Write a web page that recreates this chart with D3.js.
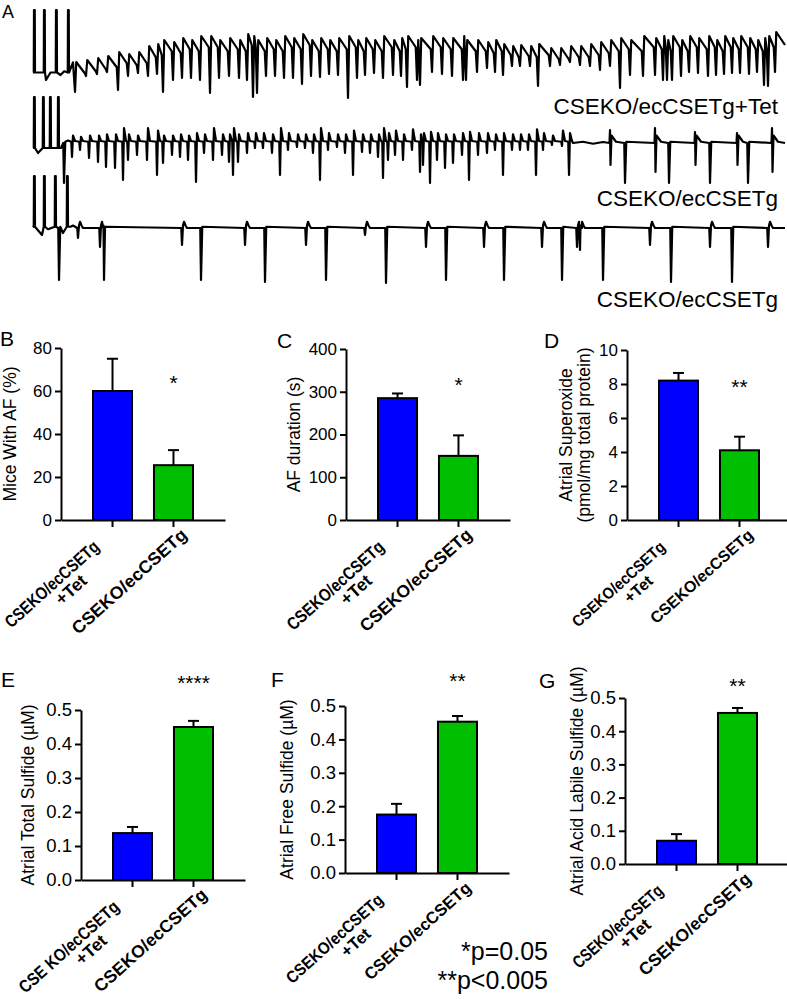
<!DOCTYPE html>
<html><head><meta charset="utf-8">
<script src="https://cdn.jsdelivr.net/npm/d3@7"></script>
<style>
body{margin:0;background:#fff}
svg{display:block}
text{font-family:"Liberation Sans",Arial,Helvetica,sans-serif;fill:#000}
</style>
</head><body>
<svg id="fig" width="787" height="999"></svg>
<script>
// ================= DATA =================
const categories = ["CSEKO/ecCSETg+Tet", "CSEKO/ecCSETg"];
const labelLines = [["CSEKO/ecCSETg", "+Tet"], ["CSEKO/ecCSETg"]];
const labelLinesE = [["CSE KO/ecCSETg", "+Tet"], ["CSEKO/ecCSETg"]];
const barColors = ["#0000ff", "#00bf00"];

const afIncidence = [60, 25.5],        afIncidenceErr = [15, 7];
const afDuration = [285, 150],         afDurationErr = [11, 48];
const superoxide = [8.2, 4.1],         superoxideErr = [0.45, 0.8];
const totalSulfide = [0.138, 0.45],    totalSulfideErr = [0.018, 0.018];
const freeSulfide = [0.175, 0.453],    freeSulfideErr = [0.032, 0.017];
const acidSulfide = [0.07, 0.455],     acidSulfideErr = [0.02, 0.015];

const ticksB = [0, 20, 40, 60, 80];
const ticksC = [0, 100, 200, 300, 400];
const ticksD = [0, 2, 4, 6, 8, 10];
const ticksSulfide = [0, 0.1, 0.2, 0.3, 0.4, 0.5];

const sigMarks = ["*", "*", "**", "****", "**", "**"];
const sigLevels = [66, 327, 8.1, 0.594, 0.59, 0.55];
const pNotes = ["*p=0.05", "**p<0.005"];

// ECG traces (time in ms, voltage in mV relative to each trace baseline)
const traceLabels = ["CSEKO/ecCSETg+Tet", "CSEKO/ecCSETg", "CSEKO/ecCSETg"];
const t1Stim = [4, 44, 92, 140];
const t1StimAmp = 2.2;
const t1Extra = [[0,-0.3],[52,-0.6],[70,-0.3],[110,-0.4],[125,-0.25],[150,-0.15],[160,0.1],[3008,0.8]];
const t1Times = [168,212,256,296,340,380,420,460,496,520,560,596,632,668,708,744,784,824,856,880,896,932,968,1004,1040,1076,1112,1148,1184,1220,1260,1296,1328,1364,1400,1440,1472,1496,1536,1548,1596,1636,1676,1720,1732,1776,1816,1848,1880,1916,1948,1988,2020,2068,2108,2148,2188,2228,2268,2308,2348,2388,2440,2488,2520,2536,2556,2592,2624,2660,2700,2732,2764,2796,2828,2864,2896,2924,2940,2968];
const t1Troughs = [-1.08,-0.44,-0.36,-0.28,-1.00,-0.44,-0.32,-0.44,-0.36,-1.08,-0.60,-0.52,-0.52,-0.60,-1.12,-0.52,-0.44,-0.52,-0.60,-1.28,-1.12,-0.44,-0.44,-0.52,-0.52,-0.76,-0.44,-0.48,-0.36,-0.40,-1.32,-0.52,-0.40,-0.32,-0.52,-0.40,-0.44,-0.88,-0.60,-0.80,-0.28,-0.36,-0.44,-0.60,-0.60,-0.28,-0.12,-0.28,-0.40,-0.04,-0.04,-0.04,-0.84,-0.04,0.00,0.12,0.00,-0.04,-0.20,-0.04,-0.92,-0.40,-0.44,-0.40,-0.60,-0.60,-0.60,-0.44,-0.28,-0.32,-0.44,-0.40,-0.36,-0.32,-0.32,-0.36,-0.28,-0.80,-0.84,-0.28];
const t1Peaks = [0.12,0.20,0.28,0.36,0.52,0.44,0.52,0.76,0.84,1.00,0.92,1.08,1.00,1.16,1.16,1.00,1.08,1.00,1.24,1.16,1.00,1.08,1.00,1.16,1.08,1.24,1.00,1.08,1.00,1.08,1.16,1.00,1.08,1.00,1.16,1.00,1.08,1.16,1.00,1.08,1.16,1.08,1.08,1.16,1.00,1.00,0.92,1.00,0.84,0.76,0.80,0.76,0.84,0.68,0.68,0.76,0.76,0.84,0.92,1.00,1.08,1.00,1.16,1.08,1.16,1.00,1.16,1.00,1.16,1.08,1.16,1.00,1.16,1.08,1.16,1.08,1.00,1.08,1.16,1.32];
const t2Stim = [4, 40, 68, 100];
const t2StimAmp = 1.84;
const t2Extra = [[0,-0.2],[20,-0.4],[112,-0.2],[140,0.1],[2160,0.0],[2200,0.05],[2240,-0.03],[2280,0.04],[3008,0.0]];
const t2Times = [156,188,224,260,292,328,360,380,416,456,496,520,556,588,620,652,684,720,756,784,800,820,856,888,920,956,988,1020,1056,1088,1120,1148,1180,1216,1248,1280,1316,1348,1380,1400,1420,1448,1480,1516,1548,1560,1588,1616,1648,1680,1716,1744,1780,1816,1848,1880,1916,1948,1980,2012,2040,2076,2116,2144];
const t2Depths = [-0.56,-0.28,-0.60,-0.76,-0.96,-1.00,-1.48,-0.68,-0.48,-0.68,-1.28,-0.80,-0.48,-0.56,-0.68,-1.56,-0.40,-0.68,-0.48,-0.76,-1.28,-0.76,-0.40,-0.20,-0.20,-0.40,-1.28,-0.28,-0.16,-0.20,-0.40,-1.48,-0.28,-0.16,-0.40,-1.28,-0.36,-0.40,-0.56,-1.40,-0.68,-0.48,-0.68,-0.28,-1.16,-0.88,-1.60,-0.68,-1.00,-0.80,-0.48,-1.48,-0.48,-0.40,-0.28,-1.28,-0.28,-0.28,-0.28,-1.28,-0.28,-0.08,-0.12,-1.28];
const t2Ups = [0.3,0.25,0.3,0.3,0.35,0.35,0.6,0.35,0.3,0.6,0.5,0.3,0.3,0.35,0.3,0.4,0.35,0.6,0.35,0.35,0.6,0.35,0.4,0.4,0.4,0.35,0.6,0.4,0.35,0.35,0.35,0.6,0.4,0.35,0.35,0.5,0.35,0.35,0.35,0.6,0.4,0.5,0.35,0.55,0.35,0.4,0.45,0.4,0.35,0.35,0.4,0.45,0.4,0.4,0.35,0.4,0.35,0.35,0.35,0.55,0.4,0.3,0.5,0.4];
const t2LateTimes = [2308, 2488, 2648, 2816, 2956];
const t2LateUp = [0.52, 0.6, 0.44, 0.4, 0.6];
const t2LateDown = [-0.88, -1.16, -0.88, -0.88, -1.16];
const t2DeepTimes = [124, 2368, 2544, 2708, 2860];
const t2DeepDepths = [-1.6, -1.6, -1.6, -1.6, -1.6];
const t3Stim = [4, 44, 88, 136];
const t3StimAmp = 2.08;
const t3Extra = [[0,0.1],[36,-0.28],[60,-0.05],[120,-0.2],[150,0.05],[160,0.1],[3008,0.0]];
const t3DeepTimes = [104, 284, 672, 928, 1172, 1412, 1652, 1884, 2116, 2280, 2552, 2796];
const t3DeepDepths = [-2.08,-2.08,-2.08,-2.16,-2.08,-2.2,-2.08,-2.08,-2.08,-2.08,-2.16,-2.16];
const t3SmallTimes = [180, 268, 596, 848, 1092, 1328, 1572, 1804, 2036, 2176, 2188, 2468, 2708, 2940];
const t3SmallDepths = [-0.4,-0.76,-0.68,-0.68,-0.68,-0.28,-0.76,-0.76,-0.76,-0.76,-0.88,-0.68,-0.76,-0.76];

// ================= DRAW =================
const svg = d3.select("#fig");

// ---- Panel A: traces ----
const tx = d3.scaleLinear().domain([0, 3008]).range([33, 785]);
const traceBases = [65, 143, 228];
const ys = traceBases.map(b => d3.scaleLinear().domain([-2, 2]).range([b + 50, b - 50]));

function stimPts(times, amp, base) {
  const p = [];
  times.forEach(s => p.push([s - 1, base], [s, amp], [s + 3, amp], [s + 4, base]));
  return p;
}
let p1 = [...t1Extra, ...stimPts(t1Stim, t1StimAmp, -0.3)];
t1Times.forEach((t, i) => {
  const prev = i > 0 ? t1Peaks[i - 1] : 0.1;
  p1.push([t - 5, prev - 0.45], [t, t1Troughs[i]], [t + 5, t1Peaks[i]]);
});
let p2 = [...t2Extra, ...stimPts(t2Stim, t2StimAmp, -0.2)];
t2Times.forEach((t, i) => p2.push([t - 3, 0.05], [t, t2Depths[i]], [t + 4, t2Ups[i]], [t + 12, 0.08]));
t2LateTimes.forEach((t, i) => p2.push([t - 2, 0], [t, t2LateUp[i]], [t + 2, t2LateDown[i]], [t + 6, 0.3], [t + 24, 0.05]));
t2DeepTimes.forEach((t, i) => p2.push([t - 3, 0], [t, t2DeepDepths[i]], [t + 5, 0.05]));
let p3 = [...t3Extra, ...stimPts(t3Stim, t3StimAmp, 0.05)];
t3DeepTimes.forEach((t, i) => p3.push([t - 3, 0], [t, t3DeepDepths[i]], [t + 5, 0.05]));
t3SmallTimes.forEach((t, i) => p3.push([t - 3, 0], [t, t3SmallDepths[i]], [t + 4, 0.1], [t + 8, 0.25], [t + 14, 0.1], [t + 20, 0]));

[p1, p2, p3].forEach((pts, k) => {
  pts.sort((a, b) => a[0] - b[0]);
  svg.append("path").datum(pts)
    .attr("d", d3.line().x(d => tx(d[0])).y(d => ys[k](d[1])))
    .attr("fill", "none").attr("stroke", "#000").attr("stroke-width", 2.2)
    .attr("stroke-linejoin", "round");
});
const traceLabelY = [114, 206, 307];
traceLabels.forEach((t, k) => {
  svg.append("text").attr("x", 778).attr("y", traceLabelY[k]).attr("text-anchor", "end")
    .attr("font-size", 22.5).text(t);
});
svg.append("text").attr("x", 2).attr("y", 18).attr("font-size", 18).text("A");

// ---- Bar panels ----
const panels = [
  {letter:"B", lx:0, ly:346, values:afIncidence, errs:afIncidenceErr, domain:[0,80], ticks:ticksB, fmt:d3.format("d"),
   axisX:61, top:348, bottom:520, yLabel:["Mice With AF (%)"], yLabelX:[16], tickFs:17, labFs:17.5, L1:120, L2:148, lines:labelLines},
  {letter:"C", lx:277, ly:348, values:afDuration, errs:afDurationErr, domain:[0,400], ticks:ticksC, fmt:d3.format("d"),
   axisX:346, top:349, bottom:520, yLabel:["AF duration (s)"], yLabelX:[300], tickFs:17, labFs:17.5, L1:124, L2:144, lines:labelLines},
  {letter:"D", lx:544, ly:348, values:superoxide, errs:superoxideErr, domain:[0,10], ticks:ticksD, fmt:d3.format("d"),
   axisX:627, top:350, bottom:520, yLabel:["Atrial Superoxide","(pmol/mg total protein)"], yLabelX:[572,590], tickFs:17, labFs:16, L1:119, L2:132, lines:labelLines},
  {letter:"E", lx:1, ly:687, values:totalSulfide, errs:totalSulfideErr, domain:[0,0.5], ticks:ticksSulfide, fmt:d3.format(".1f"),
   axisX:81, top:710, bottom:880, yLabel:["Atrial Total Sulfide (\u00b5M)"], yLabelX:[34], tickFs:18.5, labFs:17.5, L1:128, L2:145, lines:labelLinesE},
  {letter:"F", lx:271, ly:687, values:freeSulfide, errs:freeSulfideErr, domain:[0,0.5], ticks:ticksSulfide, fmt:d3.format(".1f"),
   axisX:345, top:706, bottom:873, yLabel:["Atrial Free Sulfide (\u00b5M)"], yLabelX:[293], tickFs:18.5, labFs:16.7, L1:124, L2:137, lines:labelLines},
  {letter:"G", lx:539, ly:688, values:acidSulfide, errs:acidSulfideErr, domain:[0,0.5], ticks:ticksSulfide, fmt:d3.format(".1f"),
   axisX:625, top:698, bottom:864, yLabel:["Atrial Acid Labile Sulfide (\u00b5M)"], yLabelX:[583], tickFs:18.5, labFs:17.5, L1:115, L2:144, lines:labelLines}
];

function fitText(parent, str, fs, x, y, L) {
  const t = parent.append("text").attr("text-anchor", "end").attr("font-size", fs)
    .attr("font-weight", "bold").text(str);
  const w = t.node().getComputedTextLength();
  const k = L ? L / w : 1;
  t.attr("transform", `translate(${x},${y}) scale(${k},1)`);
  return t;
}
const labelAngle = -42;

panels.forEach((cfg, pi) => {
  const g = svg.append("g");
  const y = d3.scaleLinear().domain(cfg.domain).range([cfg.bottom, cfg.top]);
  const x = d3.scaleBand().domain(categories).range([cfg.axisX, cfg.axisX + 164])
    .paddingInner(0.36).paddingOuter(0.525);
  const bw = x.bandwidth();

  g.selectAll("rect.bar").data(cfg.values).join("rect").attr("class", "bar")
    .attr("x", (d, i) => x(categories[i])).attr("y", d => y(d))
    .attr("width", bw).attr("height", d => y(0) - y(d))
    .attr("fill", (d, i) => barColors[i]).attr("stroke", "#000").attr("stroke-width", 2);
  cfg.values.forEach((v, i) => {
    const cx = x(categories[i]) + bw / 2;
    g.append("line").attr("x1", cx).attr("x2", cx).attr("y1", y(v)).attr("y2", y(v + cfg.errs[i]))
      .attr("stroke", "#000").attr("stroke-width", 2);
    g.append("line").attr("x1", cx - 5.5).attr("x2", cx + 5.5).attr("y1", y(v + cfg.errs[i])).attr("y2", y(v + cfg.errs[i]))
      .attr("stroke", "#000").attr("stroke-width", 2);
  });

  const ya = g.append("g").attr("transform", `translate(${cfg.axisX},0)`)
    .call(d3.axisLeft(y).tickValues(cfg.ticks).tickFormat(cfg.fmt).tickSize(6).tickSizeOuter(0));
  ya.attr("font-family", null).attr("font-size", null);
  ya.selectAll("path,line").attr("stroke", "#000").attr("stroke-width", 2);
  ya.selectAll("text").attr("font-size", cfg.tickFs).attr("fill", "#000");

  const xa = g.append("g").attr("transform", `translate(0,${cfg.bottom})`)
    .call(d3.axisBottom(x).tickSize(7).tickSizeOuter(0).tickFormat(""));
  xa.selectAll("path,line").attr("stroke", "#000").attr("stroke-width", 2);

  categories.forEach((c, i) => {
    const cx = x(c) + bw / 2;
    const lg = g.append("g").attr("transform", `translate(${cx},${cfg.bottom}) rotate(${labelAngle})`);
    const lines = cfg.lines[i];
    if (lines.length === 2) {
      fitText(lg, lines[0], cfg.labFs, -28, 13, cfg.L1);
      fitText(lg, lines[1], cfg.labFs, -60, 30, null);
    } else {
      fitText(lg, lines[0], cfg.labFs, 0, 22, cfg.L2);
    }
  });

  const cy = (cfg.top + cfg.bottom) / 2;
  cfg.yLabel.forEach((t, k) => {
    svg.append("text").attr("transform", `translate(${cfg.yLabelX[k]},${cy}) rotate(-90)`)
      .attr("text-anchor", "middle").attr("font-size", 17.5).text(t);
  });

  svg.append("text").attr("x", cfg.lx).attr("y", cfg.ly).attr("font-size", 21).text(cfg.letter);

  const sfs = 21;
  svg.append("text").attr("x", x(categories[1]) + bw / 2).attr("y", y(sigLevels[pi]) + 0.57 * sfs)
    .attr("text-anchor", "middle").attr("font-size", sfs).text(sigMarks[pi]);
});

pNotes.forEach((t, k) => {
  svg.append("text").attr("x", 548).attr("y", 960 + k * 29).attr("text-anchor", "end")
    .attr("font-size", 25).text(t);
});
</script>
</body></html>
